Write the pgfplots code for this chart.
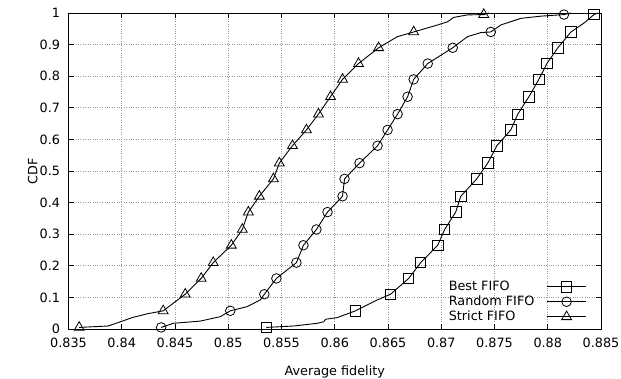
\documentclass[border=0pt]{standalone}
\usepackage{fontspec}
\setmainfont{DejaVu Sans}
\usepackage{pgfplots}
\pgfplotsset{compat=1.18}
\begin{document}
\begin{tikzpicture}[font=\fontsize{12.8}{15.4}\selectfont]
\path[use as bounding box] (-68.5pt,-50pt) rectangle (552.5pt,329pt);
\begin{axis}[
  at={(0pt,0pt)}, anchor=south west,
  scale only axis, width=532.5pt, height=316pt,
  xmin=0.835, xmax=0.885, ymin=0, ymax=1,
  xtick={0.835,0.84,0.845,0.85,0.855,0.86,0.865,0.87,0.875,0.88,0.885},
  ytick={0,0.1,0.2,0.3,0.4,0.5,0.6,0.7,0.8,0.9,1},
  scaled ticks=false,
  /pgf/number format/fixed, /pgf/number format/precision=3,
  /pgf/number format/assume math mode=true,
  tick align=inside, tick pos=both, major tick length=5pt,
  grid=major, major grid style={dotted, black!40, line width=0.6pt},
  axis line style={line width=0.9pt},
  every tick/.style={black, line width=0.8pt},
  ticklabel style={font=\fontsize{12.8}{15.4}\selectfont},
  label style={font=\fontsize{12.8}{15.4}\selectfont},
  xticklabel style={yshift=-5pt}, yticklabel style={xshift=-5pt},
  xlabel={Average fidelity}, ylabel={CDF},
  every axis x label/.style={at={(axis description cs:0.5,-0.136)},anchor=center},
  every axis y label/.style={at={(axis description cs:-0.067,0.5)},rotate=90,anchor=center},
  legend style={at={(axis description cs:0.711,0.158)}, anchor=north west, draw=none, fill=none,
    inner sep=0pt, row sep=0pt, column sep=11pt, font=\fontsize{12.8}{15.4}\selectfont,
    nodes={inner sep=1.5pt, text height=10pt, text depth=2pt}},
  legend cell align=left, legend plot pos=right,
  linestyle/.style={black, line width=0.9pt, mark=none},
  markstyle/.style={black, only marks, mark options={solid, line width=0.8pt},
    legend image code/.code={\draw[black, line width=0.9pt] (0cm,0cm) -- (1.35cm,0cm);
      \draw plot coordinates {(0.675cm,0cm)};}},
]
% Best FIFO
\addplot[linestyle, forget plot] coordinates {
(0.85358,0.005) (0.85615,0.0095) (0.85835,0.018) (0.85897,0.023) (0.85913,0.0307) (0.86023,0.036)
(0.86195,0.0575) (0.86400,0.092) (0.86524,0.11) (0.86694,0.16) (0.86807,0.21) (0.86967,0.265)
(0.87032,0.315) (0.87136,0.37) (0.87183,0.42) (0.87333,0.475) (0.87437,0.525) (0.87522,0.58)
(0.87653,0.63) (0.87719,0.68) (0.87823,0.735) (0.87917,0.79) (0.87992,0.84) (0.88095,0.89)
(0.88218,0.94) (0.88340,0.968) (0.88434,0.995) (0.8847,1.0)};
\addplot[markstyle, mark=square, mark size=5.2pt] coordinates {
(0.85358,0.005) (0.86195,0.0575) (0.86524,0.11) (0.86694,0.16) (0.86807,0.21) (0.86967,0.265)
(0.87032,0.315) (0.87136,0.37) (0.87183,0.42) (0.87333,0.475) (0.87437,0.525) (0.87522,0.58)
(0.87653,0.63) (0.87719,0.68) (0.87823,0.735) (0.87917,0.79) (0.87992,0.84) (0.88095,0.89)
(0.88218,0.94) (0.88434,0.995)};
\addlegendentry{Best FIFO}
% Random FIFO
\addplot[linestyle, forget plot] coordinates {
(0.84370,0.005) (0.84483,0.018) (0.84737,0.025) (0.84925,0.039) (0.85019,0.0575) (0.85176,0.0706)
(0.85301,0.092) (0.85339,0.11) (0.85452,0.16) (0.85640,0.21) (0.85706,0.265) (0.85828,0.315)
(0.85932,0.37) (0.86073,0.42) (0.86092,0.475) (0.86233,0.525) (0.86402,0.58) (0.86496,0.63)
(0.86590,0.68) (0.86684,0.735) (0.86741,0.79) (0.86873,0.84) (0.87108,0.89) (0.87246,0.925)
(0.87371,0.938) (0.87465,0.94) (0.87559,0.962) (0.87747,0.983) (0.87935,0.990) (0.88152,0.995)
(0.8822,1.0)};
\addplot[markstyle, mark=o, mark size=4.8pt] coordinates {
(0.84370,0.005) (0.85019,0.0575) (0.85339,0.11) (0.85452,0.16) (0.85640,0.21) (0.85706,0.265)
(0.85828,0.315) (0.85932,0.37) (0.86073,0.42) (0.86092,0.475) (0.86233,0.525) (0.86402,0.58)
(0.86496,0.63) (0.86590,0.68) (0.86684,0.735) (0.86741,0.79) (0.86873,0.84) (0.87108,0.89)
(0.87465,0.94) (0.88152,0.995)};
\addlegendentry{Random FIFO}
% Strict FIFO
\addplot[linestyle, forget plot] coordinates {
(0.83600,0.005) (0.83872,0.0095) (0.83956,0.019) (0.84097,0.036) (0.84238,0.048) (0.84389,0.0575)
(0.84596,0.11) (0.84746,0.16) (0.84859,0.21) (0.85029,0.265) (0.85132,0.315) (0.85189,0.37)
(0.85292,0.42) (0.85424,0.475) (0.85480,0.525) (0.85603,0.58) (0.85734,0.63) (0.85847,0.68)
(0.85960,0.735) (0.86073,0.79) (0.86223,0.84) (0.86412,0.89) (0.86587,0.925) (0.86741,0.94)
(0.86964,0.962) (0.87058,0.972) (0.87117,0.986) (0.87246,0.994) (0.87399,0.995) (0.8745,1.0)};
\addplot[markstyle, mark=triangle, mark size=5.7pt] coordinates {
(0.83600,0.005) (0.84389,0.0575) (0.84596,0.11) (0.84746,0.16) (0.84859,0.21) (0.85029,0.265)
(0.85132,0.315) (0.85189,0.37) (0.85292,0.42) (0.85424,0.475) (0.85480,0.525) (0.85603,0.58)
(0.85734,0.63) (0.85847,0.68) (0.85960,0.735) (0.86073,0.79) (0.86223,0.84) (0.86412,0.89)
(0.86741,0.94) (0.87399,0.995)};
\addlegendentry{Strict FIFO}
\end{axis}
\end{tikzpicture}
\end{document}
